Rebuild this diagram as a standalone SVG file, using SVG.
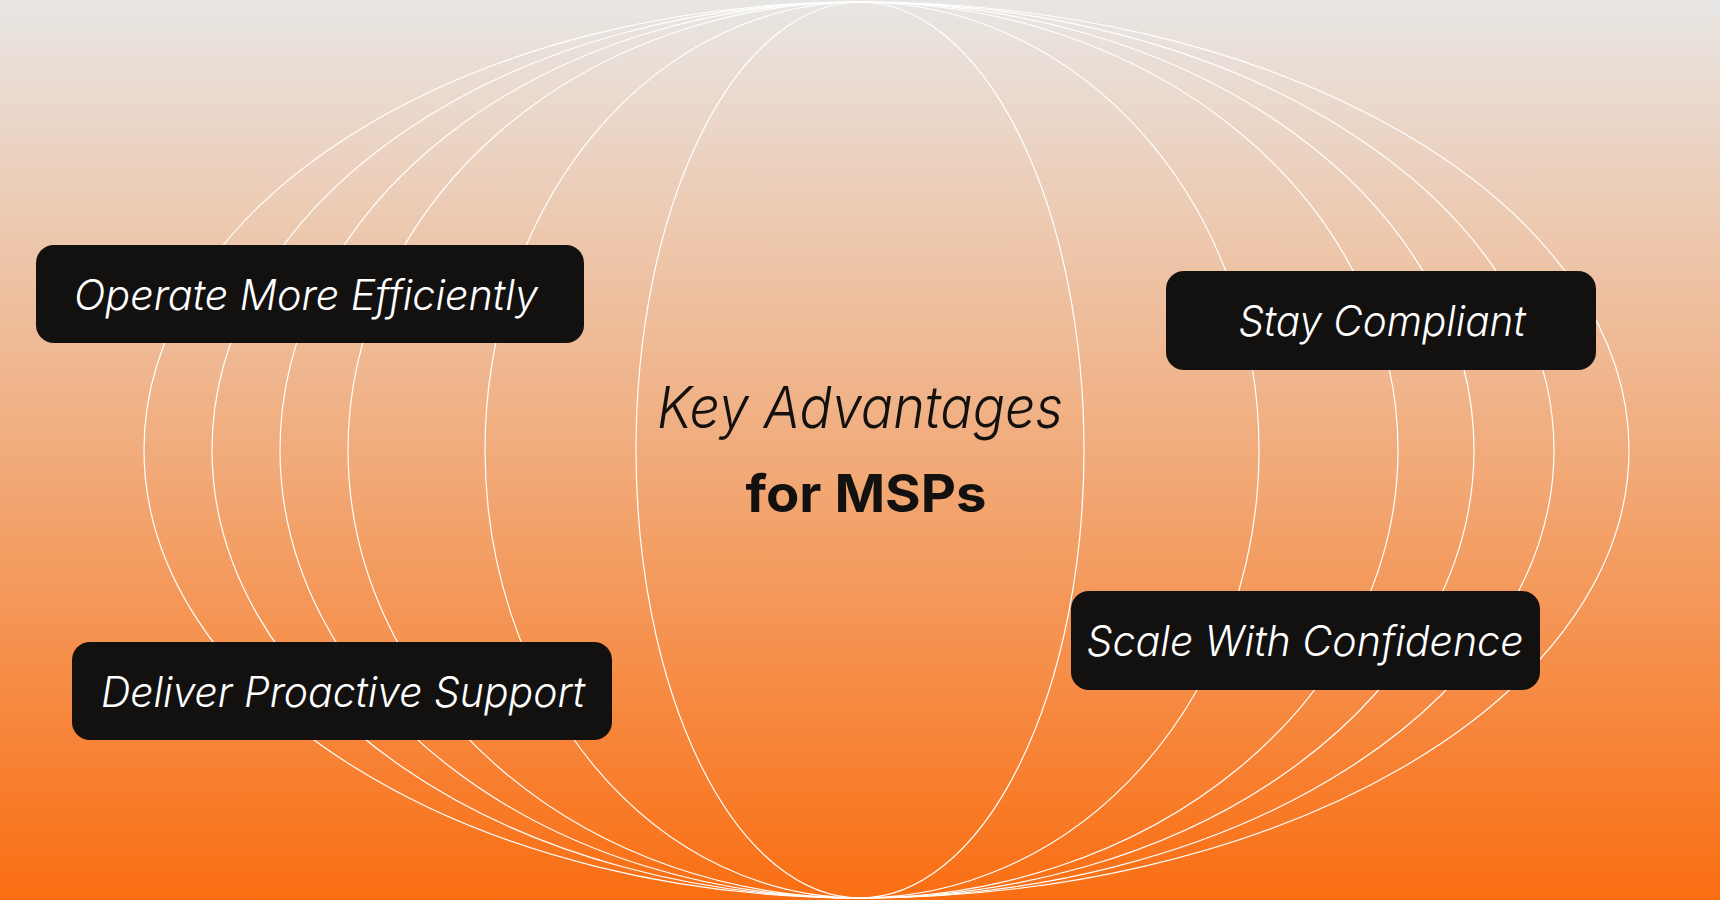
<svg xmlns="http://www.w3.org/2000/svg" width="1720" height="900" viewBox="0 0 1720 900">
  <defs>
    <linearGradient id="bg" x1="0" y1="0" x2="0" y2="1">
      <stop offset="0" stop-color="#E8E6E4"/>
      <stop offset="0.5" stop-color="#F1AC7C"/>
      <stop offset="1" stop-color="#FA6E12"/>
    </linearGradient>
    <style>
      .orbit { fill: none; stroke: #FFFFFF; stroke-width: 1.2; }
      .box { fill: #121110; }
      .label { font-family: Inter, "Liberation Sans", sans-serif; font-style: italic; font-weight: 300; font-size: 42px; fill: #FFFFFF; text-anchor: middle; }
      .title { font-family: Inter, "Liberation Sans", sans-serif; font-style: italic; font-weight: 300; font-size: 58px; fill: #121110; text-anchor: middle; }
      .subtitle { font-family: Inter, "Liberation Sans", sans-serif; font-weight: 700; font-size: 52px; fill: #121110; text-anchor: middle; }
    </style>
  </defs>
  <rect x="0" y="0" width="1720" height="900" fill="url(#bg)"/>
  <g id="connectors">
    <path class="orbit" d="M 860 2 A 769 448 0 0 1 860 898 A 716 448 0 0 1 860 2 Z"/>
    <path class="orbit" d="M 860 2 A 694 448 0 0 1 860 898 A 648 448 0 0 1 860 2 Z"/>
    <path class="orbit" d="M 860 2 A 614 448 0 0 1 860 898 A 580 448 0 0 1 860 2 Z"/>
    <path class="orbit" d="M 860 2 A 538 448 0 0 1 860 898 A 512 448 0 0 1 860 2 Z"/>
    <path class="orbit" d="M 860 2 A 399 448 0 0 1 860 898 A 375 448 0 0 1 860 2 Z"/>
    <path class="orbit" d="M 860 2 A 224 448 0 0 1 860 898 A 224 448 0 0 1 860 2 Z"/>
  </g>
  <g id="center-title">
    <text class="title" x="860" y="428" textLength="406" lengthAdjust="spacingAndGlyphs">Key Advantages</text>
    <text class="subtitle" x="866" y="512" textLength="241" lengthAdjust="spacingAndGlyphs">for MSPs</text>
  </g>
  <g id="node-operate">
    <rect class="box" x="36" y="245" width="548" height="98" rx="18"/>
    <text class="label" x="306" y="310" textLength="464" lengthAdjust="spacingAndGlyphs">Operate More Efficiently</text>
  </g>
  <g id="node-compliant">
    <rect class="box" x="1166" y="271" width="430" height="99" rx="18"/>
    <text class="label" x="1382" y="336" textLength="287" lengthAdjust="spacingAndGlyphs">Stay Compliant</text>
  </g>
  <g id="node-scale">
    <rect class="box" x="1071" y="591" width="469" height="99" rx="18"/>
    <text class="label" x="1305" y="656" textLength="437" lengthAdjust="spacingAndGlyphs">Scale With Confidence</text>
  </g>
  <g id="node-deliver">
    <rect class="box" x="72" y="642" width="540" height="98" rx="18"/>
    <text class="label" x="343" y="707" textLength="484" lengthAdjust="spacingAndGlyphs">Deliver Proactive Support</text>
  </g>
</svg>
